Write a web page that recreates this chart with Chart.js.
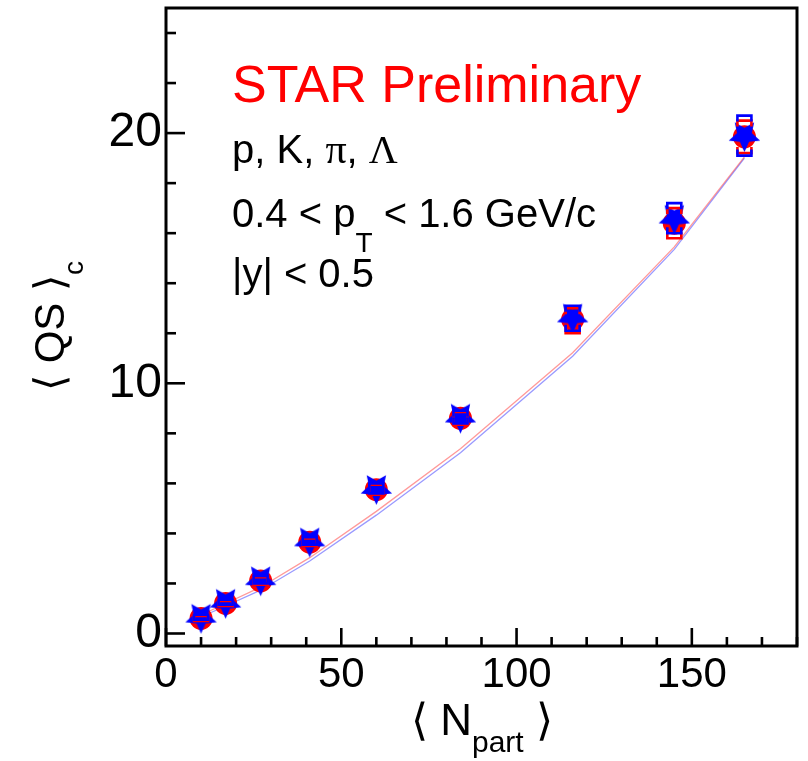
<!DOCTYPE html>
<html><head><meta charset="utf-8">
<script src="https://cdn.jsdelivr.net/npm/chart.js@4.4.1/dist/chart.umd.min.js"></script>
<style>html,body{margin:0;padding:0;background:#fff}#wrap{width:808px;height:761px}</style>
</head><body><div id="wrap"><canvas id="c" width="808" height="761"></canvas></div>
<script>
// ---- data ----
const npart = [10, 17, 27, 41, 60, 84, 116, 145, 165];
const qsRed = [0.6, 1.2, 2.1, 3.65, 5.75, 8.6, 12.55, 16.4, 19.85];
const qsBlue = [0.65, 1.25, 2.15, 3.7, 5.8, 8.65, 12.65, 16.6, 19.9];
const sysRedLo = [0.5, 1.1, 1.95, 3.5, 5.55, 8.35, 12.0, 15.8, 19.2];
const sysRedHi = [0.7, 1.3, 2.25, 3.8, 5.95, 8.85, 13.0, 17.0, 20.5];
const sysBlueLo = [0.55, 1.15, 2.0, 3.55, 5.6, 8.4, 12.1, 16.0, 19.1];
const sysBlueHi = [0.75, 1.35, 2.3, 3.85, 6.0, 8.9, 13.1, 17.2, 20.7];
const modelRed = [0.74, 1.2, 1.85, 3.03, 4.88, 7.38, 11.22, 15.45, 19.05];
const modelBlue = [0.66, 1.1, 1.73, 2.9, 4.73, 7.22, 11.08, 15.35, 19.0];
const xTickLabels = ['0', '50', '100', '150'];
const yTickLabels = ['0', '10', '20'];
const labelsText = ['STAR Preliminary', 'p, K, \u03C0, \u039B', '0.4 < p', 'T', ' < 1.6 GeV/c', '|y| < 0.5'];

const SANS = '"Liberation Sans", Arial, Helvetica, sans-serif';
const SERIF = '"Liberation Serif", "Times New Roman", serif';

function makeStar(R, r, color) {
  const c = document.createElement('canvas');
  const s = Math.ceil(2 * R + 2);
  c.width = s; c.height = s;
  const g = c.getContext('2d');
  g.translate(s / 2, s / 2);
  g.beginPath();
  for (let i = 0; i < 10; i++) {
    const a = Math.PI / 2 + i * Math.PI / 5;
    const rad = i % 2 === 0 ? R : r;
    g.lineTo(rad * Math.cos(a), rad * Math.sin(a));
  }
  g.closePath();
  g.fillStyle = color; g.fill();
  return c;
}
const starImg = makeStar(16.5, 7.8, '#0000ff');

function drawRich(ctx, x, y, segs) {
  let cx = x;
  segs.forEach(s => {
    ctx.font = (s.style || '') + ' ' + s.size + 'px ' + (s.family || SANS);
    ctx.fillStyle = s.color || '#000';
    ctx.textBaseline = 'alphabetic';
    ctx.textAlign = 'left';
    ctx.fillText(s.t, cx, y + (s.dy || 0));
    cx += ctx.measureText(s.t).width + (s.gap || 0);
  });
}

const framePlugin = {
  id: 'frame',
  beforeDatasetsDraw(chart) {
    const {ctx, chartArea: a, scales} = chart;
    ctx.save();
    ctx.strokeStyle = '#000';
    ctx.lineWidth = 2.6;
    scales.y.ticks.forEach(t => {
      const py = scales.y.getPixelForValue(t.value);
      const major = t.value % 10 === 0;
      ctx.beginPath(); ctx.moveTo(a.left, py); ctx.lineTo(a.left + (major ? 19 : 10), py); ctx.stroke();
    });
    scales.x.ticks.forEach(t => {
      const px = scales.x.getPixelForValue(t.value);
      const major = t.value % 50 === 0;
      ctx.beginPath(); ctx.moveTo(px, a.bottom); ctx.lineTo(px, a.bottom - (major ? 18 : 9)); ctx.stroke();
    });
    ctx.lineWidth = 3;
    ctx.strokeRect(a.left, a.top, a.right - a.left, a.bottom - a.top);
    ctx.restore();
  },
  afterDatasetsDraw(chart) {
    const {ctx, scales} = chart;
    ctx.save();
    ctx.lineWidth = 2.6;
    const bracket = (i, lo, hi, color) => {
      const px = scales.x.getPixelForValue(npart[i]);
      const pl = scales.y.getPixelForValue(lo), ph = scales.y.getPixelForValue(hi);
      const w = 7, leg = 6;
      ctx.strokeStyle = color;
      ctx.beginPath();
      ctx.moveTo(px - w, ph + leg); ctx.lineTo(px - w, ph); ctx.lineTo(px + w, ph); ctx.lineTo(px + w, ph + leg);
      ctx.moveTo(px - w, pl - leg); ctx.lineTo(px - w, pl); ctx.lineTo(px + w, pl); ctx.lineTo(px + w, pl - leg);
      ctx.stroke();
    };
    npart.forEach((v, i) => bracket(i, sysRedLo[i], sysRedHi[i], '#ff0000'));
    npart.forEach((v, i) => bracket(i, sysBlueLo[i], sysBlueHi[i], '#0000ff'));
    ctx.restore();
  },
  afterDraw(chart) {
    const {ctx} = chart;
    ctx.save();
    drawRich(ctx, 232, 102, [{t: labelsText[0], size: 52, color: '#ff0000'}]);
    drawRich(ctx, 232, 163, [
      {t: 'p, K, ', size: 40}, {t: labelsText[1].charAt(6), size: 42, family: SERIF},
      {t: ', ', size: 40}, {t: labelsText[1].charAt(9), size: 40, family: SERIF}]);
    drawRich(ctx, 232, 227, [{t: labelsText[2], size: 40}, {t: labelsText[3], size: 28, dy: 25}, {t: labelsText[4], size: 40}]);
    drawRich(ctx, 232, 287, [{t: labelsText[5], size: 40}]);
    drawRich(ctx, 411, 735, [{t: '\u27E8 ', size: 44}, {t: 'N', size: 44}, {t: 'part', size: 30, dy: 17}, {t: ' \u27E9', size: 44}]);
    ctx.translate(64, 391);
    ctx.rotate(-Math.PI / 2);
    drawRich(ctx, 0, 0, [{t: '\u27E8 QS \u27E9', size: 42}, {t: 'c', size: 28, dy: 19}]);
    ctx.restore();
  }
};

new Chart(document.getElementById('c'), {
  type: 'scatter',
  data: {
    datasets: [
      {label: 'blue', data: npart.map((x, i) => ({x, y: qsBlue[i]})), pointStyle: starImg, pointRadius: 16, order: 0, showLine: false},
      {label: 'red', data: npart.map((x, i) => ({x, y: qsRed[i]})), pointStyle: 'circle', pointRadius: 11.5, backgroundColor: '#ff0000', borderWidth: 0, order: 1, showLine: false},
      {label: 'model red', data: npart.map((x, i) => ({x, y: modelRed[i]})), showLine: true, pointRadius: 0, borderColor: 'rgba(255,0,0,0.4)', borderWidth: 1.3, tension: 0, order: 2},
      {label: 'model blue', data: npart.map((x, i) => ({x, y: modelBlue[i]})), showLine: true, pointRadius: 0, borderColor: 'rgba(0,0,255,0.4)', borderWidth: 1.3, tension: 0, order: 3}
    ]
  },
  options: {
    responsive: false,
    animation: false,
    devicePixelRatio: 1,
    layout: {autoPadding: false, padding: {top: 8, right: 11, left: 0, bottom: 0}},
    plugins: {legend: {display: false}, tooltip: {enabled: false}},
    scales: {
      x: {
        type: 'linear', min: 0, max: 180,
        grid: {display: false, drawTicks: false}, border: {display: false},
        ticks: {stepSize: 10, autoSkip: false, maxRotation: 0, padding: 4, color: '#000',
          font: {family: SANS, size: 42},
          callback: v => (v % 50 === 0 ? xTickLabels[v / 50] : '')},
        afterFit: s => { s.height = 115; s.paddingLeft = 0; s.paddingRight = 0; }
      },
      y: {
        type: 'linear', min: -0.5, max: 25,
        grid: {display: false, drawTicks: false}, border: {display: false},
        ticks: {stepSize: 2, includeBounds: false, autoSkip: false, padding: 4, color: '#000',
          font: {family: SANS, size: 48},
          callback: v => (v % 10 === 0 ? yTickLabels[v / 10] : '')},
        afterFit: s => { s.width = 166; s.paddingTop = 0; s.paddingBottom = 0; }
      }
    }
  },
  plugins: [framePlugin]
});
</script>
</body></html>
